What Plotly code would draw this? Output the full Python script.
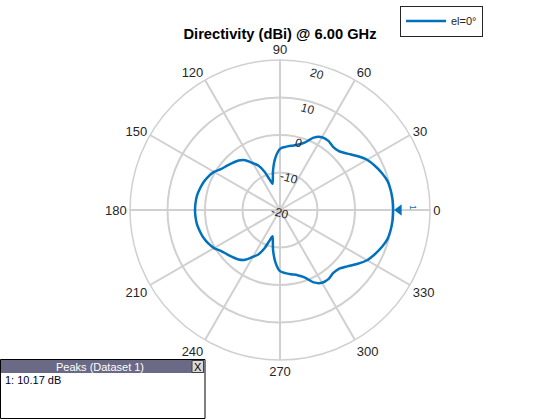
import math
import plotly.graph_objects as go

# azimuth angles (deg) and directivity (dBi), el = 0 deg
angles = [0, 5, 10, 15, 20, 25, 30, 35, 40, 45, 50, 55, 60, 65, 70, 75, 80, 85, 90, 95,
          100, 103, 106, 109, 112, 116, 120, 125, 130, 135, 140, 145, 150, 155, 160, 165, 170, 175, 180,
          185, 190, 195, 200, 205, 210, 215, 220, 225, 230, 235, 240, 244, 248, 251, 254, 257, 260,
          265, 270, 275, 280, 285, 290, 295, 300, 305, 310, 315, 320, 325, 330, 335, 340, 345, 350, 355, 360]
directivity = [10.17, 10.15, 10.0, 9.7, 8.9, 7.9, 6.8, 5.1, 3.4, 2.2, 2.0, 2.5, 2.4, 1.3, -0.9, -2.0, -2.6, -3.1, -3.7, -6.0,
               -9.3, -11.5, -12.7, -11.3, -9.0, -6.8, -5.6, -3.8, -2.8, -2.2, -1.6, -0.9, 0.3, 1.1, 1.7, 2.1, 2.45, 2.6, 2.67,
               2.6, 2.45, 2.1, 1.7, 1.1, 0.3, -0.9, -1.6, -2.2, -2.8, -3.8, -5.6, -6.8, -9.0, -11.3, -12.7, -11.5, -9.3,
               -6.0, -3.7, -3.1, -2.6, -2.0, -0.9, 1.3, 2.4, 2.5, 2.0, 2.2, 3.4, 5.1, 6.8, 7.9, 8.9, 9.7, 10.0, 10.15, 10.17]

peak_angle = [0]
peak_db = [10.17]

angle_ticks = [0, 30, 60, 90, 120, 150, 180, 210, 240, 270, 300, 330]
radial_ticks = [-20, -10, 0, 10, 20]

blue = "#0072BD"
grid = "#d0d0d0"
W, H = 560, 420
cx, cy, rad = 280, 210, 150   # polar centre and outer radius in pixels
label_angle = 75


def px(x):
    return x / W


def py(y):
    return 1 - y / H


fig = go.Figure()

fig.add_trace(
    go.Scatterpolar(
        theta=angles,
        r=directivity,
        mode="lines",
        name="el=0°",
        line=dict(color=blue, width=2.5, shape="spline", smoothing=0.7),
    )
)

# peak marker, drawn just outside the curve
fig.add_trace(
    go.Scatterpolar(
        theta=peak_angle,
        r=[v + 1.6 for v in peak_db],
        mode="markers",
        marker=dict(symbol="triangle-left", size=10, color=blue),
        showlegend=False,
    )
)

fig.update_layout(
    width=W,
    height=H,
    margin=dict(l=0, r=0, t=0, b=0),
    paper_bgcolor="white",
    font=dict(family="Liberation Sans, Arial", size=13, color="#262626"),
    title=dict(
        text="<b>Directivity (dBi) @ 6.00 GHz</b>",
        x=px(cx), xanchor="center", y=py(34), yanchor="middle",
        font=dict(size=14.7, color="#000000"),
    ),
    polar=dict(
        domain=dict(x=[px(cx - rad), px(cx + rad)], y=[py(cy + rad), py(cy - rad)]),
        bgcolor="white",
        radialaxis=dict(
            range=[radial_ticks[0], radial_ticks[-1]],
            tickvals=radial_ticks,
            showticklabels=False,
            showline=False,
            ticks="",
            gridcolor=grid,
            gridwidth=1.5,
        ),
        angularaxis=dict(
            tickvals=angle_ticks,
            ticktext=[str(a) for a in angle_ticks],
            direction="counterclockwise",
            rotation=0,
            ticks="",
            showline=True,
            linecolor=grid,
            linewidth=1.5,
            gridcolor=grid,
            gridwidth=1.5,
            tickfont=dict(size=13, color="#262626"),
        ),
    ),
    showlegend=True,
    legend=dict(
        x=px(400), y=py(5.5), xanchor="left", yanchor="top",
        bgcolor="white", bordercolor="#262626", borderwidth=1,
        font=dict(size=11, color="#262626"),
        itemwidth=40,
    ),
)

# radial tick labels, tilted, sitting on the rings along the 75 deg spoke
span = radial_ticks[-1] - radial_ticks[0]
for t in radial_ticks:
    d = (t - radial_ticks[0]) / span * rad * 0.96
    lx = cx + d * math.cos(math.radians(label_angle))
    ly = cy - d * math.sin(math.radians(label_angle)) + 3
    fig.add_annotation(
        x=px(lx), y=py(ly), xref="paper", yref="paper", text=str(t),
        xanchor="center", yanchor="middle", textangle=15, showarrow=False,
        font=dict(size=12, color="#262626"),
    )

# small rotated index label next to the peak marker
fig.add_annotation(
    x=px(413), y=py(207), xref="paper", yref="paper", text="1",
    xanchor="center", yanchor="middle",
    textangle=90, showarrow=False, font=dict(size=9, color=blue),
)

# peaks table in the lower-left corner
fig.add_shape(type="rect", xref="paper", yref="paper",
              x0=px(0.5), x1=px(205), y0=py(418.5), y1=py(359.5),
              line=dict(color="black", width=1), fillcolor="white")
fig.add_shape(type="rect", xref="paper", yref="paper",
              x0=px(1), x1=px(204.5), y0=py(373), y1=py(360),
              line=dict(width=0), fillcolor="#6b6a86")
fig.add_shape(type="rect", xref="paper", yref="paper",
              x0=px(192), x1=px(203.5), y0=py(372.5), y1=py(360.5),
              line=dict(color="#404040", width=1), fillcolor="#d8d8d8")
fig.add_annotation(x=px(100), y=py(366.5), xref="paper", yref="paper",
                   xanchor="center", yanchor="middle",
                   text="Peaks (Dataset 1)", showarrow=False,
                   font=dict(size=11, color="white"))
fig.add_annotation(x=px(197.8), y=py(366.5), xref="paper", yref="paper",
                   xanchor="center", yanchor="middle",
                   text="X", showarrow=False,
                   font=dict(size=11, color="black"))
fig.add_annotation(x=px(3), y=py(380), xref="paper", yref="paper",
                   xanchor="left", yanchor="middle",
                   text="1: %.2f dB" % peak_db[0], showarrow=False,
                   font=dict(size=11, color="#000020"))

# drop the default page margin so the figure sits at the window's corner
fig.write_html("out.html", config={"displayModeBar": False},
               post_script="document.body.style.margin = '0px';")
